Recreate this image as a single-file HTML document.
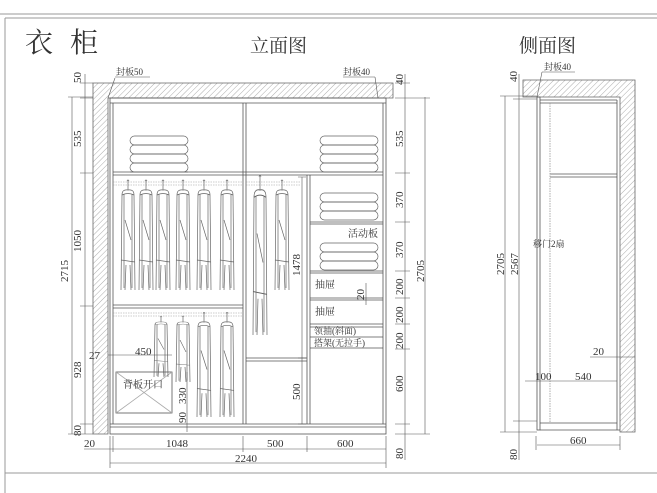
<!DOCTYPE html>
<html><head><meta charset="utf-8"><style>
html,body{margin:0;padding:0;background:#fff;}
svg{display:block;}
text{font-family:"Liberation Serif","Noto Serif CJK SC","Noto Sans CJK SC",serif;fill:#333;}
</style></head><body>
<svg width="657" height="493" viewBox="0 0 657 493" xmlns="http://www.w3.org/2000/svg">
<defs>
<pattern id="h" width="4" height="4" patternUnits="userSpaceOnUse" patternTransform="rotate(45)">
<line x1="0" y1="0" x2="0" y2="4" stroke="#888" stroke-width="0.7"/>
</pattern>
<g id="gar" fill="none" stroke="#666" stroke-width="0.7">
<path d="M0,-9 V0 M-1,-9 q1,-2 2,0"/>
<path d="M-6,5 Q-6,-1 0,0 Q6,-1 6,5 L7,100 M-6,5 L-7,100"/>
<path d="M-4,4 L-4,98 M4,4 L4,98 M-6,5 Q0,2 6,5 M-3,30 L3,50 M-7,70 L7,72 M-2,75 L-3,100 M2,75 L3,100"/>
</g>
<g id="fold" fill="none" stroke="#666" stroke-width="0.7">
<rect x="0" y="0" width="58" height="9" rx="4.5"/>
<rect x="0" y="9" width="58" height="9" rx="4.5"/>
<rect x="0" y="18" width="58" height="9" rx="4.5"/>
</g>
</defs>
<g fill="none" stroke="#999" stroke-width="1">
<line x1="0" y1="14" x2="657" y2="14"/>
<line x1="5" y1="18" x2="657" y2="18"/>
<line x1="5" y1="18" x2="5" y2="493"/>
<line x1="5" y1="473" x2="657" y2="473"/>
</g>
<text x="25" y="52" font-size="28">衣</text>
<text x="70" y="52" font-size="28">柜</text>
<text x="250" y="52" font-size="19">立面图</text>
<text x="519" y="52" font-size="19">侧面图</text>

<!-- elevation -->
<path d="M93,83 H393 V98 H108 V434 H93 Z" fill="url(#h)" stroke="#666" stroke-width="0.8"/>
<g fill="none" stroke="#555" stroke-width="0.8">
<rect x="110" y="98" width="276" height="336"/>
<line x1="110" y1="103" x2="386" y2="103"/>
<line x1="113" y1="103" x2="113" y2="424"/>
<line x1="383" y1="103" x2="383" y2="424"/>
<line x1="110" y1="424" x2="386" y2="424"/>
<line x1="110" y1="427" x2="386" y2="427"/>
<line x1="243" y1="103" x2="243" y2="424"/><line x1="246" y1="103" x2="246" y2="424"/>
<line x1="113" y1="172" x2="383" y2="172"/><line x1="113" y1="175" x2="383" y2="175"/>
<line x1="307" y1="175" x2="307" y2="424"/><line x1="310" y1="175" x2="310" y2="424"/>
<line x1="310" y1="222" x2="383" y2="222"/><line x1="310" y1="224" x2="383" y2="224"/>
<line x1="310" y1="271" x2="383" y2="271"/><line x1="310" y1="273" x2="383" y2="273"/>
<line x1="310" y1="298" x2="383" y2="298"/><line x1="310" y1="300" x2="383" y2="300"/>
<line x1="310" y1="324" x2="383" y2="324"/><line x1="310" y1="327" x2="383" y2="327"/>
<line x1="310" y1="337" x2="383" y2="337"/><line x1="310" y1="348" x2="383" y2="348"/>
<line x1="113" y1="305" x2="243" y2="305"/><line x1="113" y1="308" x2="243" y2="308"/>
<line x1="246" y1="358" x2="307" y2="358"/><line x1="246" y1="361" x2="307" y2="361"/>
<rect x="116" y="372" width="56" height="41"/>
<path d="M116,372 L172,413 M172,372 L116,413" stroke="#aaa"/>
</g>
<g stroke="#999" stroke-width="0.6" stroke-dasharray="1.5 1">
<line x1="113" y1="182" x2="243" y2="182"/><line x1="113" y1="185" x2="243" y2="185"/>
<line x1="246" y1="182" x2="300" y2="182"/><line x1="246" y1="185" x2="300" y2="185"/>
<line x1="113" y1="313" x2="243" y2="313"/><line x1="113" y1="316" x2="243" y2="316"/>
</g>
<use href="#fold" x="130" y="136"/><line x1="130" y1="172" x2="188" y2="172" stroke="#666"/>
<rect x="130" y="163" width="58" height="9" rx="4.5" fill="none" stroke="#666" stroke-width="0.7"/>
<use href="#fold" x="320" y="136"/><rect x="320" y="163" width="58" height="9" rx="4.5" fill="none" stroke="#666" stroke-width="0.7"/>
<use href="#fold" x="320" y="193"/>
<use href="#fold" x="320" y="243"/>
<use href="#gar" transform="translate(128,190)"/>
<use href="#gar" transform="translate(146,190)"/>
<use href="#gar" transform="translate(163,190)"/>
<use href="#gar" transform="translate(183,190)"/>
<use href="#gar" transform="translate(204,190)"/>
<use href="#gar" transform="translate(227,190)"/>
<use href="#gar" transform="translate(260,190) scale(1,1.45)"/>
<use href="#gar" transform="translate(282,190) scale(1,1.0)"/>
<use href="#gar" transform="translate(161,322) scale(1,0.55)"/>
<use href="#gar" transform="translate(183,322) scale(1,0.6)"/>
<use href="#gar" transform="translate(204,322) scale(1,0.95)"/>
<use href="#gar" transform="translate(227,322) scale(1,0.95)"/>
<g font-size="10">
<text x="348" y="237">活动板</text>
<text x="315" y="288">抽屉</text>
<text x="315" y="315">抽屉</text>
<text x="314" y="334" font-size="9">领抽(斜面)</text>
<text x="314" y="346" font-size="9">搭架(无拉手)</text>
<text x="123" y="388">背板开口</text>
<text x="116" y="75" font-size="9">封板50</text>
<text x="343" y="75" font-size="9">封板40</text>
</g>
<g stroke="#555" stroke-width="0.6" fill="none">
<path d="M115,77 H150 M115,78 L108,98 M343,77 H375 M375,77 L378,98"/>
<!-- left dims -->
<line x1="85" y1="74" x2="85" y2="434"/>
<line x1="72" y1="97" x2="72" y2="434"/>
<path d="M80,83 H93 M80,98 H93 M80,173 H93 M80,306 H93 M80,424 H93 M68,97 H93 M68,434 H93"/>
<!-- right dims -->
<line x1="405" y1="74" x2="405" y2="460"/>
<line x1="425" y1="97" x2="425" y2="434"/>
<path d="M395,83 H410 M395,98 H430 M395,173 H410 M395,222 H410 M395,271 H410 M395,298 H410 M395,324 H410 M395,349 H410 M395,424 H410 M395,434 H430"/>
<!-- inner dims -->
<line x1="302" y1="177" x2="302" y2="424"/><path d="M298,177 H306 M298,358 H306 M298,424 H306"/>
<line x1="187" y1="372" x2="187" y2="432"/>
<line x1="366" y1="283" x2="366" y2="305"/>
<line x1="108" y1="355" x2="172" y2="355"/>
<!-- bottom dims -->
<line x1="84" y1="449" x2="386" y2="449"/>
<path d="M110,436 V468 M113,436 V452 M243,436 V452 M307,436 V452 M386,436 V468"/>
<line x1="110" y1="463" x2="386" y2="463"/>
</g>
<g font-size="11">
<text transform="translate(81,83) rotate(-90)">50</text>
<text transform="translate(81,147) rotate(-90)">535</text>
<text transform="translate(81,252) rotate(-90)">1050</text>
<text transform="translate(81,378) rotate(-90)">928</text>
<text transform="translate(81,436) rotate(-90)">80</text>
<text transform="translate(68,282) rotate(-90)">2715</text>
<text transform="translate(403,85) rotate(-90)">40</text>
<text transform="translate(403,147) rotate(-90)">535</text>
<text transform="translate(403,208) rotate(-90)">370</text>
<text transform="translate(403,258) rotate(-90)">370</text>
<text transform="translate(403,295) rotate(-90)">200</text>
<text transform="translate(403,323) rotate(-90)">200</text>
<text transform="translate(403,349) rotate(-90)">200</text>
<text transform="translate(403,392) rotate(-90)">600</text>
<text transform="translate(403,459) rotate(-90)">80</text>
<text transform="translate(424,282) rotate(-90)">2705</text>
<text transform="translate(300,276) rotate(-90)">1478</text>
<text transform="translate(300,400) rotate(-90)">500</text>
<text transform="translate(186,404) rotate(-90)">330</text>
<text transform="translate(186,423) rotate(-90)">90</text>
<text transform="translate(364,300) rotate(-90)">20</text>
<text x="89" y="359">27</text>
<text x="135" y="355">450</text>
<text x="84" y="447">20</text>
<text x="166" y="447">1048</text>
<text x="267" y="447">500</text>
<text x="337" y="447">600</text>
<text x="235" y="462">2240</text>
</g>

<!-- side view -->
<path d="M523,80 H635 V432 H620 V97 H523 Z" fill="url(#h)" stroke="#666" stroke-width="0.8"/>
<g fill="none" stroke="#555" stroke-width="0.8">
<rect x="537" y="97" width="3" height="333"/>
<line x1="540" y1="100" x2="617" y2="100"/><line x1="540" y1="103" x2="617" y2="103"/>
<line x1="617" y1="100" x2="617" y2="430"/>
<line x1="550" y1="174" x2="617" y2="174"/><line x1="550" y1="177" x2="617" y2="177"/>
<line x1="540" y1="423" x2="617" y2="423"/><line x1="540" y1="430" x2="620" y2="430"/>
<line x1="550" y1="103" x2="550" y2="423" stroke="#999" stroke-dasharray="1.5 1"/>
</g>
<g stroke="#555" stroke-width="0.6" fill="none">
<path d="M542,72 H575 M542,72 L537,97"/>
<line x1="505" y1="96" x2="505" y2="432"/>
<line x1="519" y1="74" x2="519" y2="460"/>
<path d="M500,96 H537 M513,99 H537 M513,421 H537 M500,432 H537"/>
<path d="M536,436 V450 M620,436 V450 M537,445 H620"/>
<path d="M590,357 H635 M525,381 H617"/>
</g>
<g font-size="11">
<text x="544" y="70" font-size="9">封板40</text>
<text transform="translate(517,82) rotate(-90)">40</text>
<text transform="translate(517,460) rotate(-90)">80</text>
<text transform="translate(504,275) rotate(-90)">2705</text>
<text transform="translate(518,275) rotate(-90)">2567</text>
<text x="533" y="247" font-size="9">移门2扇</text>
<text x="593" y="355">20</text>
<text x="535" y="380">100</text>
<text x="575" y="380">540</text>
<text x="570" y="444">660</text>
</g>
</svg>
</body></html>
